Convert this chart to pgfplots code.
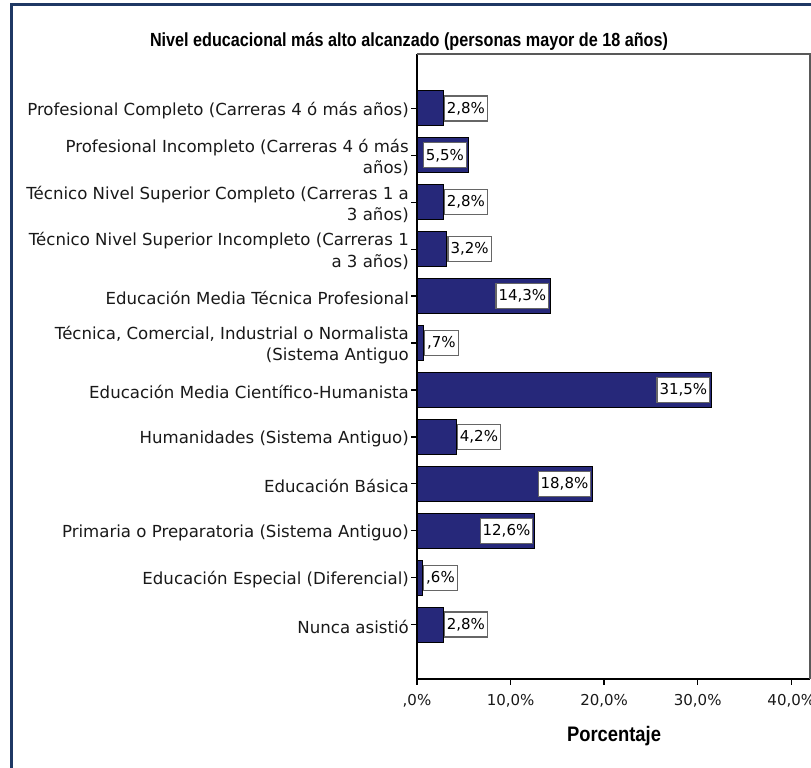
\documentclass[border=0pt]{standalone}
\usepackage{pgfplots}
\usepackage{pgfplotstable}
\pgfplotsset{compat=1.18}
\usepackage{fontspec}
\setmainfont{DejaVu Sans}
\newfontfamily\titlefont{Liberation Sans}
\definecolor{barblue}{RGB}{38,40,122}
\definecolor{framecol}{RGB}{31,56,100}

\pgfplotstableread{
y v
12 2.8
11 5.5
10 2.8
9 3.2
8 14.3
7 0.7
6 31.5
5 4.2
4 18.8
3 12.6
2 0.6
1 2.8
}\bars

\pgfplotstableread{
y v t
12 2.8 2,8\%
10 2.8 2,8\%
9 3.2 3,2\%
7 0.7 ,7\%
5 4.2 4,2\%
2 0.6 ,6\%
1 2.8 2,8\%
}\outlabels

\pgfplotstableread{
y v t
11 5.5 5,5\%
8 14.3 14,3\%
6 31.5 31,5\%
4 18.8 18,8\%
3 12.6 12,6\%
}\inlabels

\tikzset{lbl/.style={draw=black!60, fill=white, line width=1.2bp, inner xsep=2.5bp, inner ysep=0pt,
  minimum height=25bp, font=\fontsize{15bp}{17bp}\selectfont}}

\begin{document}
\begin{tikzpicture}[x=1bp,y=1bp]
\useasboundingbox (0,0) rectangle (811,768);
\clip (0,0) rectangle (811,768);
\fill[white] (0,0) rectangle (811,768);
\draw[framecol, line width=3bp] (11.5,-50) -- (11.5,763.5) -- (900,763.5);
\begin{axis}[
  at={(417bp,89bp)}, anchor=south west,
  scale only axis, width=393bp, height=625bp,
  xmin=0, xmax=42, ymin=-0.16, ymax=13.16,
  axis x line*=bottom, axis y line*=left,
  axis line style={black, line width=1.3bp},
  xtick={0,10,20,30,40},
  xticklabels={{,0\%},{10,0\%},{20,0\%},{30,0\%},{40,0\%}},
  ytick={1,2,3,4,5,6,7,8,9,10,11,12},
  yticklabels={
    {Nunca asistió},
    {Educación Especial (Diferencial)},
    {Primaria o Preparatoria (Sistema Antiguo)},
    {Educación Básica},
    {Humanidades (Sistema Antiguo)},
    {Educación Media Científico-Humanista},
    {Técnica, Comercial, Industrial o Normalista\\(Sistema Antiguo},
    {Educación Media Técnica Profesional},
    {Técnico Nivel Superior Incompleto (Carreras 1\\a 3 años)},
    {Técnico Nivel Superior Completo (Carreras 1 a\\3 años)},
    {Profesional Incompleto (Carreras 4 ó más\\años)},
    {Profesional Completo (Carreras 4 ó más años)}
  },
  tick align=outside, major tick length=6bp,
  tick style={black, line width=1.3bp},
  xticklabel style={font=\fontsize{15bp}{17bp}\selectfont, text=black!90, yshift=-6bp},
  yticklabel style={font=\fontsize{16.6bp}{21.5bp}\selectfont, align=right, text=black!90, yshift=-2bp, inner xsep=2bp},
  clip=false,
]
\addplot[xbar, bar width=35bp, fill=barblue, draw=black, line width=1bp] table[x=v, y=y] {\bars};
\addplot[only marks, mark=*, mark size=0pt, mark options={draw=none, fill=none},
  nodes near coords, point meta=explicit symbolic,
  every node near coord/.style={lbl, anchor=west, xshift=0.5bp}]
  table[x=v, y=y, meta=t] {\outlabels};
\addplot[only marks, mark=*, mark size=0pt, mark options={draw=none, fill=none},
  nodes near coords, point meta=explicit symbolic,
  every node near coord/.style={lbl, anchor=east, xshift=-1.5bp}]
  table[x=v, y=y, meta=t] {\inlabels};
\draw[black!65, line width=1.2bp] (rel axis cs:0,1) -- (rel axis cs:1,1) -- (rel axis cs:1,0);
\end{axis}
\node[font=\titlefont\bfseries\fontsize{19bp}{22bp}\selectfont] at (409,726)
  {\resizebox{518bp}{\height}{Nivel educacional más alto alcanzado (personas mayor de 18 años)}};
\node[font=\titlefont\bfseries\fontsize{21bp}{24bp}\selectfont] at (614,32)
  {\resizebox{94bp}{\height}{Porcentaje}};
\end{tikzpicture}
\end{document}
